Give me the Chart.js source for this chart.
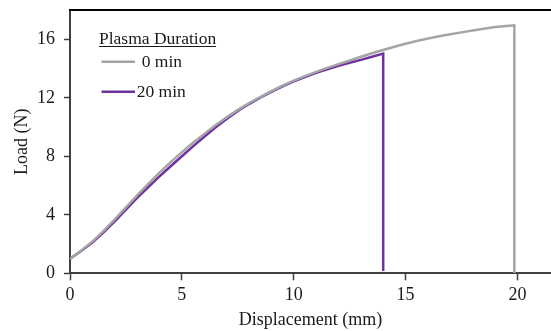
<!DOCTYPE html>
<html>
<head>
<meta charset="utf-8">
<script src="https://cdn.jsdelivr.net/npm/chart.js@4.4.1/dist/chart.umd.min.js"></script>
<style>
  html, body { margin: 0; padding: 0; background: #fff; }
  #wrap { width: 551px; height: 331px; position: relative; }
</style>
</head>
<body>
<div id="wrap"><canvas id="c" width="551" height="331"></canvas></div>
<script>
// Displacement (mm) / Load (N)
const seriesNames = ['0 min', '20 min'];
const legendTitle = 'Plasma Duration';
const xTitle = 'Displacement (mm)';
const yTitle = 'Load (N)';

const disp0 = [0, 0.5, 1, 1.5, 2, 2.5, 3, 3.5, 4, 4.5, 5, 5.5, 6, 6.5, 7, 7.5, 8, 8.5, 9, 9.5, 10, 10.5, 11, 11.5, 12, 12.5, 13, 13.5, 14, 14.5, 15, 15.5, 16, 16.5, 17, 17.5, 18, 18.5, 19, 19.5, 19.86, 19.86];
const load0 = [1.0, 1.55, 2.17, 2.9, 3.68, 4.5, 5.33, 6.12, 6.88, 7.6, 8.28, 8.92, 9.53, 10.12, 10.66, 11.17, 11.63, 12.05, 12.45, 12.83, 13.17, 13.48, 13.77, 14.04, 14.3, 14.55, 14.8, 15.04, 15.27, 15.49, 15.69, 15.88, 16.05, 16.2, 16.34, 16.47, 16.6, 16.72, 16.83, 16.91, 16.95, 0.0];

const disp20 = [0, 0.5, 1, 1.5, 2, 2.5, 3, 3.5, 4, 4.5, 5, 5.5, 6, 6.5, 7, 7.5, 8, 8.5, 9, 9.5, 10, 10.5, 11, 11.5, 12, 12.5, 13, 13.5, 14.0, 14.0];
const load20 = [1.0, 1.52, 2.1, 2.8, 3.55, 4.35, 5.15, 5.9, 6.62, 7.32, 8.0, 8.68, 9.33, 9.96, 10.55, 11.1, 11.57, 12.0, 12.4, 12.78, 13.12, 13.42, 13.7, 13.95, 14.18, 14.39, 14.59, 14.8, 15.02, 0.15];

const xTicks = [0, 5, 10, 15, 20];
const yTicks = [0, 4, 8, 12, 16];

const colors = ['#A5A5A5', '#7030A0'];
const FONT = '"Liberation Serif", "Times New Roman", serif';
const INK = '#1a1a1a';
const AXIS = '#404040';

function pts(xs, ys) { return xs.map((x, i) => ({ x: x, y: ys[i] })); }

const legendPlugin = {
  id: 'customLegend',
  afterDraw(chart) {
    const ctx = chart.ctx;
    const ca = chart.chartArea;
    ctx.save();
    // top border of plot box
    ctx.strokeStyle = '#000';
    ctx.lineWidth = 2;
    ctx.beginPath();
    ctx.moveTo(ca.left - 1, ca.top);
    ctx.lineTo(ca.right, ca.top);
    ctx.stroke();

    // legend
    ctx.font = '17.5px ' + FONT;
    ctx.fillStyle = INK;
    ctx.textBaseline = 'alphabetic';
    ctx.textAlign = 'left';
    const tx = 99, ty = 44;
    ctx.fillText(legendTitle, tx, ty);
    const w = ctx.measureText(legendTitle).width;
    ctx.strokeStyle = INK;
    ctx.lineWidth = 1;
    ctx.beginPath();
    ctx.moveTo(tx, ty + 2.5);
    ctx.lineTo(tx + w, ty + 2.5);
    ctx.stroke();

    const rows = [61.7, 91.7];
    const textX = [141.7, 136.7];
    chart.data.datasets.forEach((ds, i) => {
      ctx.strokeStyle = ds.borderColor;
      ctx.lineWidth = 2.5;
      ctx.beginPath();
      ctx.moveTo(101.5, rows[i]);
      ctx.lineTo(135, rows[i]);
      ctx.stroke();
      ctx.fillStyle = INK;
      ctx.textBaseline = 'middle';
      ctx.fillText(ds.label, textX[i], rows[i] + 1);
    });
    ctx.restore();
  }
};

new Chart(document.getElementById('c'), {
  type: 'scatter',
  data: {
    datasets: [
      { label: seriesNames[0], data: pts(disp0, load0), borderColor: colors[0], backgroundColor: colors[0], showLine: true, pointRadius: 0, borderWidth: 2.5, tension: 0, fill: false },
      { label: seriesNames[1], data: pts(disp20, load20), borderColor: colors[1], backgroundColor: colors[1], showLine: true, pointRadius: 0, borderWidth: 2.5, tension: 0, fill: false }
    ]
  },
  options: {
    responsive: false,
    animation: false,
    devicePixelRatio: 1,
    layout: { padding: { top: 10, right: 0, left: 0, bottom: 0 } },
    plugins: { legend: { display: false }, tooltip: { enabled: false } },
    scales: {
      x: {
        type: 'linear', min: 0, max: 21.5,
        afterBuildTicks(axis) { axis.ticks = xTicks.map(v => ({ value: v })); },
        afterFit(axis) { axis.height = 57.7; axis.paddingLeft = 0; axis.paddingRight = 0; },
        ticks: { font: { family: FONT, size: 18 }, color: INK, padding: 4, maxRotation: 0 },
        grid: { display: true, drawOnChartArea: false, drawTicks: true, tickLength: 7, tickColor: AXIS, tickWidth: 1.5 },
        border: { display: true, color: AXIS, width: 2 },
        title: { display: true, text: xTitle, font: { family: FONT, size: 18 }, color: INK, padding: { top: 0, bottom: 0 } }
      },
      y: {
        type: 'linear', min: 0, max: 18,
        afterBuildTicks(axis) { axis.ticks = yTicks.map(v => ({ value: v })); },
        afterFit(axis) { axis.width = 70; axis.paddingTop = 0; axis.paddingBottom = 0; },
        ticks: { font: { family: FONT, size: 18 }, color: INK, padding: 9 },
        grid: { display: true, drawOnChartArea: false, drawTicks: true, tickLength: 6, tickColor: AXIS, tickWidth: 1.5 },
        border: { display: true, color: AXIS, width: 2 },
        title: { display: true, text: yTitle, font: { family: FONT, size: 18 }, color: INK, padding: { top: 11, bottom: 0 } }
      }
    }
  },
  plugins: [legendPlugin]
});
</script>
</body>
</html>
